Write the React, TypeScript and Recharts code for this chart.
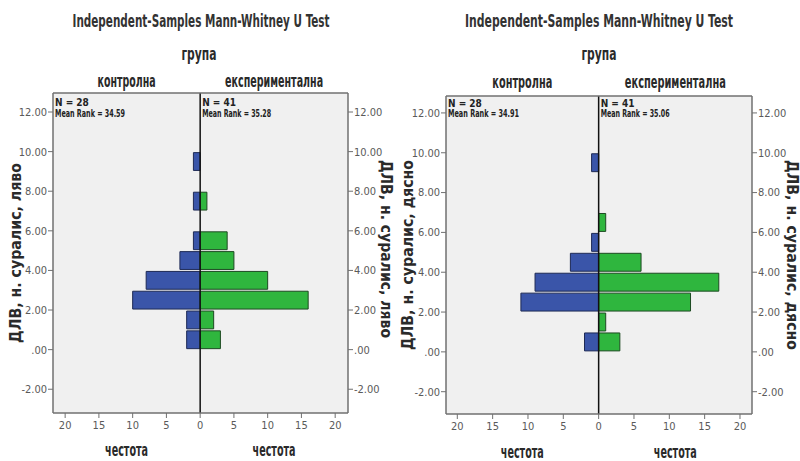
import { ComposedChart, Bar, XAxis, YAxis, CartesianGrid, ReferenceLine } from 'recharts'

// bin centres of the nerve latency histogram (bin width 1)
const BINS = [0.5, 1.5, 2.5, 3.5, 4.5, 5.5, 6.5, 7.5, 8.5, 9.5]
const GROUPS = ['контролна', 'експериментална']
const Y_TICKS = [-2, 0, 2, 4, 6, 8, 10, 12]
const X_TICKS = [-20, -15, -10, -5, 0, 5, 10, 15, 20]

// ДЛВ, н. суралис, ляво
const LEFT_CONTROL = [2, 2, 10, 8, 3, 1, 0, 1, 0, 1]
const LEFT_EXPERIMENTAL = [3, 2, 16, 10, 5, 4, 0, 1, 0, 0]
const LEFT_N = [28, 41]
const LEFT_MEAN_RANK = ['34.59', '35.28']

// ДЛВ, н. суралис, дясно
const RIGHT_CONTROL = [2, 0, 11, 9, 4, 1, 0, 0, 0, 1]
const RIGHT_EXPERIMENTAL = [3, 1, 13, 17, 6, 0, 1, 0, 0, 0]
const RIGHT_N = [28, 41]
const RIGHT_MEAN_RANK = ['34.91', '35.06']

const TITLE = 'Independent-Samples Mann-Whitney U Test'
const FONT = '"DejaVu Sans Condensed", "DejaVu Sans", sans-serif'
const BLUE = '#3a55a9'
const GREEN = '#2fb63e'

type Box = { left: number; right: number; top: number; bottom: number }

// text placement: [centre x, baseline y, length]
type Place = [number, number, number]

type Props = {
  x: number
  control: number[]
  experimental: number[]
  n: number[]
  meanRank: string[]
  yLabel: string
  box: Box
  xDomain: [number, number]
  yDomain: [number, number]
  title: Place
  group: Place
  headY: number
  headLen: [number, number]
  xLabelY: number
  yLabelLeft: Place // [baseline x, centre y, length]
  yLabelRight: Place
  stats: { base: [number, number]; len: [number, number] }
}

function Fit({ p, size, weight = 700, fill = '#2a2a2a', rotate = 0, children }: any) {
  const [x, y, len] = p
  const common = {
    fontSize: size,
    fontWeight: weight,
    fontFamily: FONT,
    fill,
    textAnchor: 'middle' as const,
    textLength: len,
    lengthAdjust: 'spacingAndGlyphs' as const,
  }
  if (rotate) {
    return (
      <text {...common} x={0} y={0} transform={`translate(${x} ${y}) rotate(${rotate})`}>
        {children}
      </text>
    )
  }
  return (
    <text {...common} x={x} y={y}>
      {children}
    </text>
  )
}

const fmtY = (v: number) => (v === 0 ? '.00' : v.toFixed(2))

function Pyramid(p: Props) {
  const rows = BINS.map((bin, i) => ({
    bin,
    control: -p.control[i],
    experimental: p.experimental[i],
  }))
  const { box, xDomain, yDomain } = p
  const plotW = box.right - box.left
  const plotH = box.bottom - box.top
  const barSize = plotH / (yDomain[1] - yDomain[0])
  const zeroX = box.left + ((0 - xDomain[0]) / (xDomain[1] - xDomain[0])) * plotW
  const halves = [(box.left + zeroX) / 2, (zeroX + box.right) / 2]

  const axisLine = { stroke: '#707070', strokeWidth: 1.5 }
  const tick = { fill: '#5a5a5a', fontSize: 11, fontFamily: FONT }

  return (
    <div style={{ position: 'absolute', left: p.x, top: 0, width: 400, height: 461 }}>
      <ComposedChart
        width={400}
        height={461}
        data={rows}
        layout="vertical"
        stackOffset="sign"
        margin={{ top: box.top - 1, bottom: 461 - box.bottom - 30, left: box.left - 40, right: 400 - box.right - 40 }}
      >
        <CartesianGrid fill="#f0f0f0" horizontal={false} vertical={false} />
        <XAxis
          xAxisId="b"
          type="number"
          domain={xDomain}
          ticks={X_TICKS}
          allowDataOverflow
          interval={0}
          tickFormatter={(v: number) => String(Math.abs(v))}
          height={30}
          tickSize={5}
          tickMargin={3}
          axisLine={axisLine}
          tickLine={{ stroke: '#707070' }}
          tick={tick}
        />
        <XAxis
          xAxisId="t"
          orientation="top"
          type="number"
          domain={xDomain}
          allowDataOverflow
          height={1}
          tick={false}
          tickLine={false}
          axisLine={axisLine}
        />
        <YAxis
          yAxisId="l"
          type="number"
          dataKey="bin"
          domain={yDomain}
          ticks={Y_TICKS}
          allowDataOverflow
          reversed
          interval={0}
          width={40}
          tickFormatter={fmtY}
          tickSize={5}
          tickMargin={1}
          axisLine={axisLine}
          tickLine={{ stroke: '#707070' }}
          tick={tick}
        />
        <YAxis
          yAxisId="r"
          orientation="right"
          type="number"
          dataKey="bin"
          domain={yDomain}
          ticks={Y_TICKS}
          allowDataOverflow
          reversed
          interval={0}
          width={40}
          tickFormatter={fmtY}
          tickSize={5}
          tickMargin={1}
          axisLine={axisLine}
          tickLine={{ stroke: '#707070' }}
          tick={tick}
        />
        <Bar
          xAxisId="b"
          yAxisId="l"
          dataKey="control"
          stackId="s"
          fill={BLUE}
          stroke="#1e2a55"
          strokeWidth={1}
          barSize={barSize}
          isAnimationActive={false}
        />
        <Bar
          xAxisId="b"
          yAxisId="l"
          dataKey="experimental"
          stackId="s"
          fill={GREEN}
          stroke="#1d4a22"
          strokeWidth={1}
          barSize={barSize}
          isAnimationActive={false}
        />
        <ReferenceLine xAxisId="b" yAxisId="l" x={0} stroke="#111" strokeWidth={1.5} />
      </ComposedChart>

      <svg width={400} height={461} style={{ position: 'absolute', left: 0, top: 0, pointerEvents: 'none' }}>
        <Fit p={p.title} size={17} fill="#333">{TITLE}</Fit>
        <Fit p={p.group} size={18}>група</Fit>
        {GROUPS.map((g, i) => (
          <Fit key={g} p={[halves[i], p.headY, p.headLen[i]]} size={18}>{g}</Fit>
        ))}
        {halves.map((hx, i) => (
          <Fit key={i} p={[hx, p.xLabelY, 43]} size={18}>честота</Fit>
        ))}
        <Fit p={p.yLabelLeft} size={15} rotate={-90}>{p.yLabel}</Fit>
        <Fit p={p.yLabelRight} size={15} rotate={90}>{p.yLabel}</Fit>
        {[box.left, zeroX].map((sx, i) => (
          <g key={i}>
            <text x={sx + 2} y={p.stats.base[0]} fontSize={10} fontWeight={700} fontFamily={FONT} fill="#222">
              N = {p.n[i]}
            </text>
            <text
              x={sx + 2}
              y={p.stats.base[1]}
              fontSize={10}
              fontWeight={700}
              fontFamily={FONT}
              fill="#222"
              textLength={p.stats.len[i]}
              lengthAdjust="spacingAndGlyphs"
            >
              Mean Rank = {p.meanRank[i]}
            </text>
          </g>
        ))}
      </svg>
    </div>
  )
}

export default function App() {
  return (
    <div style={{ position: 'absolute', left: 0, top: 0, width: 800, height: 461, background: '#fff', overflow: 'hidden' }}>
      <Pyramid
        x={0}
        control={LEFT_CONTROL}
        experimental={LEFT_EXPERIMENTAL}
        n={LEFT_N}
        meanRank={LEFT_MEAN_RANK}
        yLabel="ДЛВ, н. суралис, ляво"
        box={{ left: 53, right: 348, top: 93, bottom: 413 }}
        xDomain={[-21.8, 21.9]}
        yDomain={[-3.2, 12.96]}
        title={[201, 27, 257]}
        group={[199, 60, 35]}
        headY={87}
        headLen={[58, 98]}
        xLabelY={456}
        yLabelLeft={[21, 253, 180]}
        yLabelRight={[381, 249, 178]}
        stats={{ base: [106, 116.5], len: [70, 69] }}
      />
      <Pyramid
        x={400}
        control={RIGHT_CONTROL}
        experimental={RIGHT_EXPERIMENTAL}
        n={RIGHT_N}
        meanRank={RIGHT_MEAN_RANK}
        yLabel="ДЛВ, н. суралис, дясно"
        box={{ left: 46, right: 352, top: 96, bottom: 414 }}
        xDomain={[-21.6, 21.7]}
        yDomain={[-3.12, 12.85]}
        title={[199, 27, 268]}
        group={[199, 60, 35]}
        headY={88}
        headLen={[60, 101]}
        xLabelY={458}
        yLabelLeft={[13, 255, 190]}
        yLabelRight={[387, 255, 190]}
        stats={{ base: [107, 117], len: [71, 69] }}
      />
    </div>
  )
}
